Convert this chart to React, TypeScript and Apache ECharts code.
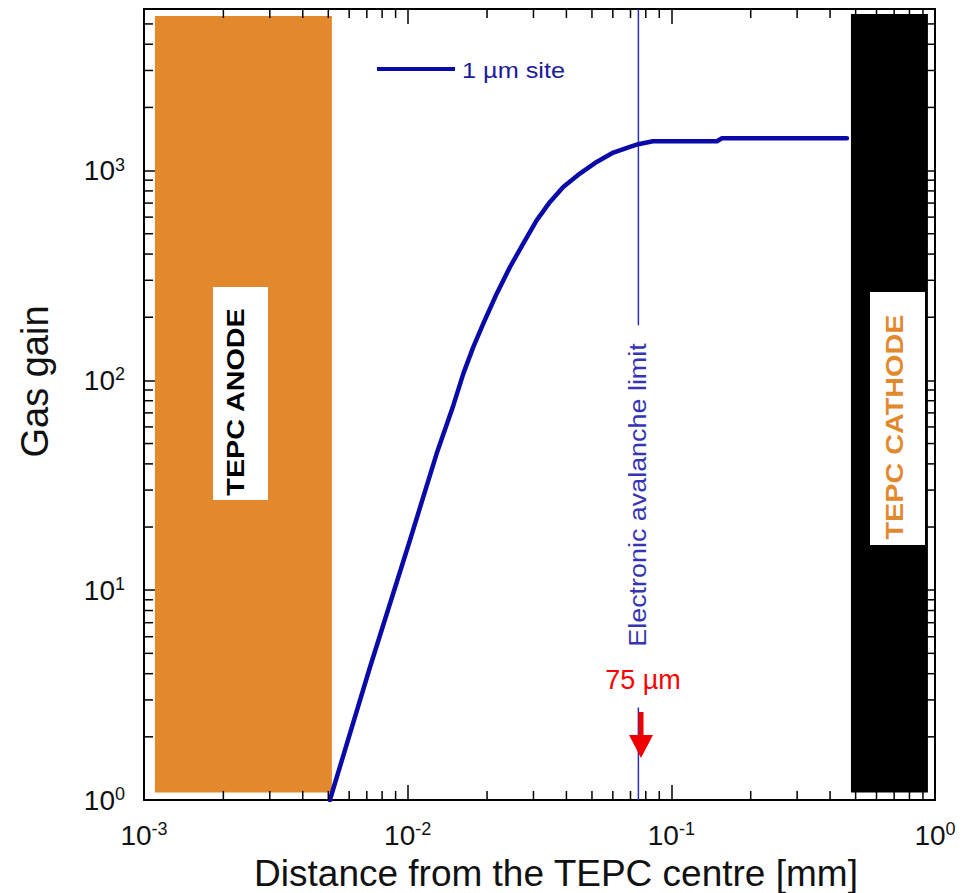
import React, { useEffect, useRef } from 'react';
import * as echarts from 'echarts';

const X_MIN = 0.001;
const X_MAX = 1;
const Y_MIN = 1;
const Y_MAX = 5890;

// Gas gain curve for a 1 µm site (distance in mm, gain)
const gainDistance = [0.00507, 0.00719, 0.0102, 0.01288, 0.0149, 0.01626, 0.01773, 0.01935, 0.02176, 0.02444, 0.02743, 0.03084, 0.03465, 0.03891, 0.045, 0.0521, 0.06026, 0.06966, 0.0749, 0.0851, 0.149, 0.1556, 0.4635];
const gainValue = [1, 4.28, 17.3, 44.8, 76, 107.7, 144, 186.6, 259, 347, 449, 579, 709, 836, 968, 1099, 1219, 1298, 1336, 1380, 1380, 1425, 1425];

// minor tick positions
const xMinorTicks = [0.002, 0.003, 0.004, 0.005, 0.006, 0.007, 0.008, 0.009, 0.02, 0.03, 0.04, 0.05, 0.06, 0.07, 0.08, 0.09, 0.2, 0.3, 0.4, 0.5, 0.6, 0.7, 0.8, 0.9];
const yMinorTicks = [2, 3, 4, 5, 6, 7, 8, 9, 20, 30, 40, 50, 60, 70, 80, 90, 200, 300, 400, 500, 600, 700, 800, 900, 2000, 3000, 4000, 5000];

// electrode regions [x0, y0, x1, y1]
const anodeRegion = [0.0011, 1.086, 0.00516, 5450];
const cathodeRegion = [0.48, 1.086, 0.94, 5570];

// electronic avalanche limit
const avalancheLimit = 0.075;
const limitUpper = [5890, 183];
const limitLower = [2.76, 1];

const FONT = 'Liberation Sans, Arial, Helvetica, sans-serif';

function supLabel(v: number) {
  const e = Math.log10(v);
  const r = Math.round(e);
  if (Math.abs(e - r) > 1e-6) return '';
  return '10{s|' + r + '}';
}

const labelRich = {
  s: { fontSize: 18, fontFamily: FONT, color: '#111', lineHeight: 18, verticalAlign: 'top' },
};

export default function App() {
  const ref = useRef<HTMLDivElement>(null);
  useEffect(() => {
    if (!ref.current) return;
    const chart = echarts.init(ref.current, undefined, { renderer: 'svg' });
    const tickStyle = { color: '#000', width: 1.5 };
    const axisLine = { show: true, lineStyle: { color: '#000', width: 2 } };
    const labelBase = { fontSize: 28, lineHeight: 30, fontFamily: FONT, color: '#111', formatter: supLabel, rich: labelRich };
    const option: any = {
      animation: false,
      backgroundColor: '#fff',
      textStyle: { fontFamily: FONT },
      grid: { left: 144, top: 9, width: 791, height: 791, containLabel: false, outerBoundsMode: 'none' },
      xAxis: [
        {
          type: 'log', logBase: 10, min: X_MIN, max: X_MAX, position: 'bottom',
          axisLine, splitLine: { show: false },
          axisTick: { show: true, inside: true, length: 15, lineStyle: tickStyle },
          axisLabel: { ...labelBase, margin: 20, showMinLabel: true, showMaxLabel: true, hideOverlap: false },
          name: 'Distance from the TEPC centre [mm]', nameLocation: 'middle', nameGap: 51,
          nameTextStyle: { fontSize: 37, lineHeight: 30, fontFamily: FONT, color: '#111', padding: [0, 0, 0, 33] },
        },
        {
          type: 'log', logBase: 10, min: X_MIN, max: X_MAX, position: 'top',
          axisLine, splitLine: { show: false },
          axisTick: { show: true, inside: true, length: 15, lineStyle: tickStyle },
          axisLabel: { show: false },
        },
      ],
      yAxis: [
        {
          type: 'log', logBase: 10, min: Y_MIN, max: Y_MAX, position: 'left',
          axisLine, splitLine: { show: false },
          axisTick: { show: true, inside: true, length: 15, lineStyle: tickStyle },
          axisLabel: { ...labelBase, margin: 19, hideOverlap: false },
          name: 'Gas gain', nameLocation: 'middle', nameGap: 90, nameRotate: 90,
          nameTextStyle: { fontSize: 38, fontFamily: FONT, color: '#111', padding: [0, 0, 0, 46] },
        },
        {
          type: 'log', logBase: 10, min: Y_MIN, max: Y_MAX, position: 'right',
          axisLine, splitLine: { show: false },
          axisTick: { show: true, inside: true, length: 15, lineStyle: tickStyle },
          axisLabel: { show: false },
        },
      ],
      series: [
        {
          type: 'custom', name: 'electrodes', clip: false, z: 1,
          data: [
            [...anodeRegion, 0],
            [...cathodeRegion, 1],
          ],
          renderItem: (params: any, api: any) => {
            const p0 = api.coord([api.value(0), api.value(1)]);
            const p1 = api.coord([api.value(2), api.value(3)]);
            const fill = api.value(4) === 0 ? '#E3892D' : '#000000';
            return {
              type: 'rect',
              shape: { x: p0[0], y: p1[1], width: p1[0] - p0[0], height: p0[1] - p1[1] },
              style: { fill },
            };
          },
        },
        {
          type: 'custom', name: 'xMinor', clip: false, z: 5, silent: true,
          data: xMinorTicks.map((v) => [v, Y_MIN]),
          renderItem: (params: any, api: any) => {
            const p = api.coord([api.value(0), Y_MIN]);
            const cs = params.coordSys;
            const st = { stroke: '#000', lineWidth: 1.5 };
            return {
              type: 'group',
              children: [
                { type: 'line', shape: { x1: p[0], y1: cs.y + cs.height, x2: p[0], y2: cs.y + cs.height - 9 }, style: st },
                { type: 'line', shape: { x1: p[0], y1: cs.y, x2: p[0], y2: cs.y + 9 }, style: st },
              ],
            };
          },
        },
        {
          type: 'custom', name: 'yMinor', clip: false, z: 5, silent: true,
          data: yMinorTicks.map((v) => [X_MIN, v]),
          renderItem: (params: any, api: any) => {
            const p = api.coord([X_MIN, api.value(1)]);
            const cs = params.coordSys;
            const st = { stroke: '#000', lineWidth: 1.5 };
            return {
              type: 'group',
              children: [
                { type: 'line', shape: { x1: cs.x, y1: p[1], x2: cs.x + 9, y2: p[1] }, style: st },
                { type: 'line', shape: { x1: cs.x + cs.width, y1: p[1], x2: cs.x + cs.width - 9, y2: p[1] }, style: st },
              ],
            };
          },
        },
        {
          type: 'line', name: 'limitUpper', symbol: 'none', z: 3,
          data: [[avalancheLimit, limitUpper[0]], [avalancheLimit, limitUpper[1]]],
          lineStyle: { color: '#2b2bc0', width: 1.5 },
        },
        {
          type: 'line', name: 'limitLower', symbol: 'none', z: 3,
          data: [[avalancheLimit, limitLower[0]], [avalancheLimit, limitLower[1]]],
          lineStyle: { color: '#2b2bc0', width: 1.5 },
        },
        {
          type: 'line', name: '1 µm site', symbol: 'none', z: 4,
          smooth: false,
          data: gainDistance.map((d, i) => [d, gainValue[i]]),
          lineStyle: { color: '#0a0aa8', width: 4.5, join: 'round', cap: 'round' },
        },
      ],
      graphic: [
        // legend
        { type: 'line', shape: { x1: 377, y1: 69, x2: 455, y2: 69 }, style: { stroke: '#0a0aa8', lineWidth: 4 }, z: 10 },
        {
          type: 'text', x: 462, y: 71, scaleX: 1.15, z: 10,
          style: { text: '1 µm site', fontSize: 22, fontFamily: FONT, fill: '#1c1c9a', align: 'left', textAlign: 'left', verticalAlign: 'middle', textVerticalAlign: 'middle' },
        },
        // anode label
        { type: 'rect', shape: { x: 213, y: 287, width: 55, height: 213 }, style: { fill: '#fff' }, z: 10 },
        {
          type: 'text', x: 236, y: 402, rotation: Math.PI / 2, scaleX: 1.25, z: 11,
          style: { text: 'TEPC ANODE', fontSize: 23, fontWeight: 'bold', fontFamily: FONT, fill: '#000', align: 'center', textAlign: 'center', verticalAlign: 'middle', textVerticalAlign: 'middle' },
        },
        // cathode label
        { type: 'rect', shape: { x: 870, y: 292, width: 55, height: 253 }, style: { fill: '#fff' }, z: 10 },
        {
          type: 'text', x: 895, y: 427, rotation: Math.PI / 2, scaleX: 1.2, z: 11,
          style: { text: 'TEPC CATHODE', fontSize: 24, fontWeight: 'bold', fontFamily: FONT, fill: '#E3892D', align: 'center', textAlign: 'center', verticalAlign: 'middle', textVerticalAlign: 'middle' },
        },
        // avalanche label
        {
          type: 'text', x: 638, y: 495, rotation: Math.PI / 2, scaleX: 1.17, z: 11,
          style: { text: 'Electronic avalanche limit', fontSize: 23, fontFamily: FONT, fill: '#3434b4', align: 'center', textAlign: 'center', verticalAlign: 'middle', textVerticalAlign: 'middle' },
        },
        // 75 µm marker
        {
          type: 'text', x: 643, y: 680, z: 11,
          style: { text: '75 µm', fontSize: 27, fontFamily: FONT, fill: '#ff0000', align: 'center', textAlign: 'center', verticalAlign: 'middle', textVerticalAlign: 'middle' },
        },
        { type: 'line', shape: { x1: 641, y1: 712, x2: 641, y2: 742 }, style: { stroke: '#ee0000', lineWidth: 5 }, z: 11 },
        { type: 'polygon', shape: { points: [[629, 735], [653, 735], [641, 758]] }, style: { fill: '#ee0000' }, z: 11 },
      ],
    };
    chart.setOption(option);
    return () => chart.dispose();
  }, []);
  return <div ref={ref} style={{ position: 'absolute', left: 0, top: 0, width: 969, height: 893 }} />;
}
